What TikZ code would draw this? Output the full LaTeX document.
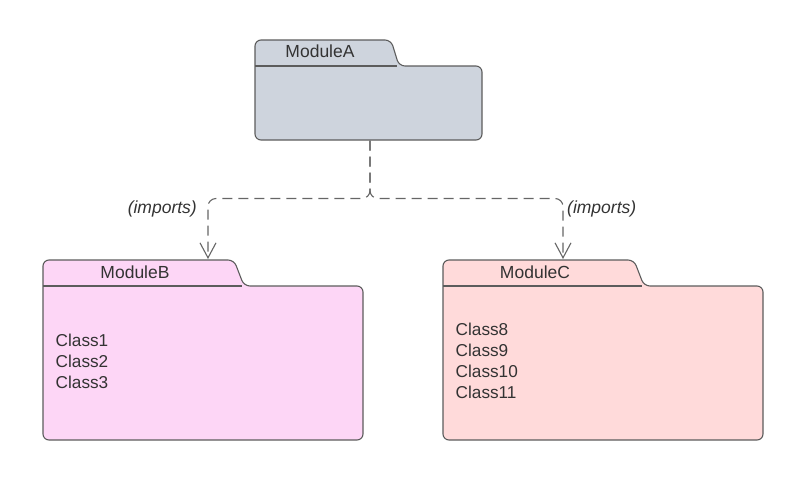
\documentclass[tikz,border=0pt]{standalone}
\usepackage{fontspec}
\setmainfont{Liberation Sans}
\usetikzlibrary{arrows.meta}
\definecolor{edge}{HTML}{5C5C5C}
\definecolor{conncol}{HTML}{666666}
\definecolor{fillA}{HTML}{CED4DD}
\definecolor{fillB}{HTML}{FDD6F6}
\definecolor{fillC}{HTML}{FFDADA}
\definecolor{txt}{HTML}{333333}
\begin{document}
\begin{tikzpicture}[x=1pt,y=-1pt,
  pkg/.style={draw=edge, line width=1.1pt, rounded corners=6pt},
  sep/.style={draw=edge, line width=1.1pt},
  lbl/.style={inner sep=0pt, text=txt, font=\fontsize{17.5}{20}\selectfont},
  cls/.style={inner sep=0pt, text=txt, align=left, anchor=west, font=\fontsize{17.2}{21}\selectfont},
  imp/.style={inner sep=0pt, text=txt, font=\fontsize{17.5}{20}\selectfont\itshape},
  conn/.style={draw=conncol, line width=1.1pt, dash pattern=on 10pt off 6pt, rounded corners=8pt,
    -{Straight Barb[length=15pt,width=16pt,line width=1.1pt]}}
]
\useasboundingbox (0,0) rectangle (803,480);
% ModuleA
\path[pkg, fill=fillA] (255,140) -- (255,40) -- (391,40) -- (399,66) -- (482,66) -- (482,140) -- cycle;
\draw[sep] (255,66) -- (397,66);
\node[lbl] (Alabel) at (320,51) {ModuleA};
% ModuleB
\path[pkg, fill=fillB] (43,440) -- (43,260) -- (234,260) -- (244,286) -- (363,286) -- (363,440) -- cycle;
\draw[sep] (43,286) -- (242,286);
\node[lbl] (Blabel) at (135,272) {ModuleB};
\node[cls] (Bcls) at (55.5,361) {Class1\\Class2\\Class3};
% ModuleC
\path[pkg, fill=fillC] (443,440) -- (443,260) -- (634,260) -- (644,286) -- (763,286) -- (763,440) -- cycle;
\draw[sep] (443,286) -- (642,286);
\node[lbl] (Clabel) at (535,272) {ModuleC};
\node[cls] (Ccls) at (455.5,361) {Class8\\Class9\\Class10\\Class11};
% connectors
\coordinate (As) at (370,140.5);
\coordinate (Bn) at (208,259);
\coordinate (Cn) at (563,259);
\draw[conn] (As) -- ++(0,58) -| (Bn);
\draw[conn] (As) -- ++(0,58) -| (Cn);
\node[imp, anchor=east] (impB) at (197,209) {(imports)};
\node[imp, anchor=west] (impC) at (567,209) {(imports)};
\end{tikzpicture}
\end{document}
